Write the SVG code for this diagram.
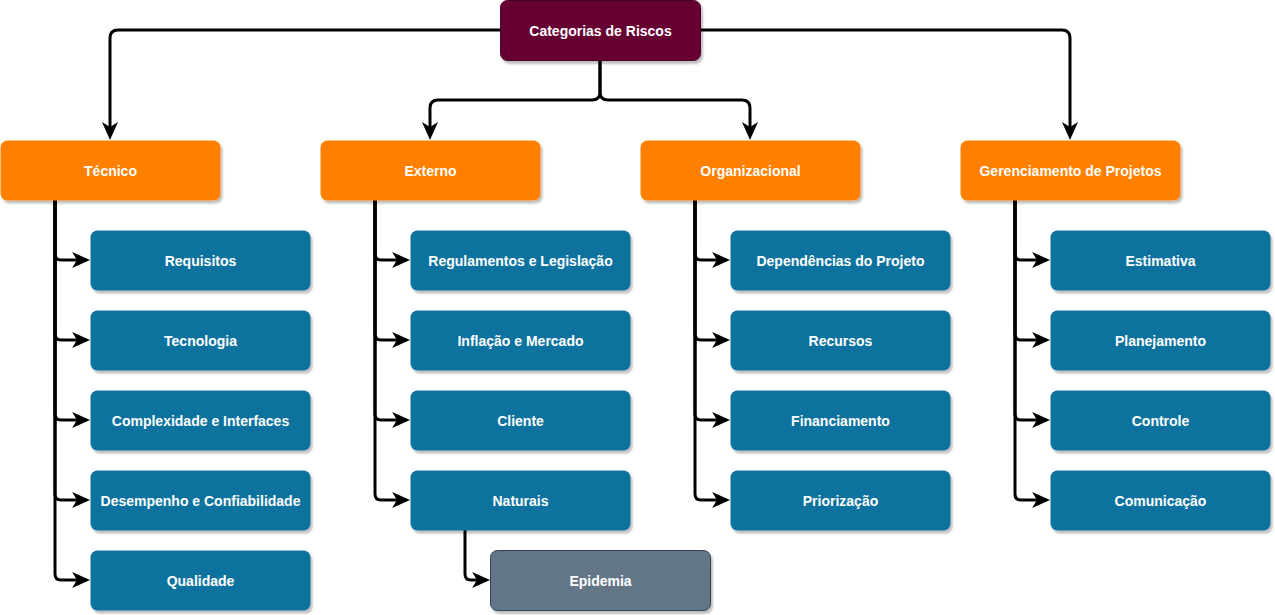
<svg xmlns="http://www.w3.org/2000/svg" width="1275" height="615" viewBox="0 0 1275 615">
<defs>
<filter id="sh" x="-10%" y="-20%" width="120%" height="150%">
<feDropShadow dx="2" dy="3" stdDeviation="1" flood-color="#000" flood-opacity="0.25"/>
</filter>
<marker id="ar" markerUnits="userSpaceOnUse" viewBox="0 0 18 16" refX="5" refY="8" markerWidth="18" markerHeight="16" orient="auto">
<path d="M0,0 L18,8 L0,16 L5,8 Z" fill="#000"/>
</marker>
<style>
.n rect{filter:url(#sh)}
.root rect{fill:#660033;stroke:#4a0025;stroke-width:1}
.cat rect{fill:#FF8000;stroke:none}
.sub rect{fill:#10739E;stroke:none}
.gray rect{fill:#647687;stroke:#314354;stroke-width:1}
.n text{font-family:"Liberation Sans",Arial,Helvetica,sans-serif;font-weight:bold;font-size:14px;fill:#fff;text-anchor:middle;dominant-baseline:central}
.c path{fill:none;stroke:#000;stroke-width:3;marker-end:url(#ar)}
</style>
</defs>
<rect width="1275" height="615" fill="#fff"/>
<g class="c" id="connectors">
<path d="M500,30 H118 Q110,30 110,38 V127"/>
<path d="M700,30 H1062 Q1070,30 1070,38 V127"/>
<path d="M600,60 V92 Q600,100 592,100 H438 Q430,100 430,108 V127"/>
<path d="M600,60 V92 Q600,100 608,100 H742 Q750,100 750,108 V127"/>
<path d="M55,200 V254 Q55,260 61,260 H77"/>
<path d="M55,200 V334 Q55,340 61,340 H77"/>
<path d="M55,200 V414 Q55,420 61,420 H77"/>
<path d="M55,200 V494 Q55,500 61,500 H77"/>
<path d="M55,200 V574 Q55,580 61,580 H77"/>
<path d="M375,200 V254 Q375,260 381,260 H397"/>
<path d="M375,200 V334 Q375,340 381,340 H397"/>
<path d="M375,200 V414 Q375,420 381,420 H397"/>
<path d="M375,200 V494 Q375,500 381,500 H397"/>
<path d="M695,200 V254 Q695,260 701,260 H717"/>
<path d="M695,200 V334 Q695,340 701,340 H717"/>
<path d="M695,200 V414 Q695,420 701,420 H717"/>
<path d="M695,200 V494 Q695,500 701,500 H717"/>
<path d="M1015,200 V254 Q1015,260 1021,260 H1037"/>
<path d="M1015,200 V334 Q1015,340 1021,340 H1037"/>
<path d="M1015,200 V414 Q1015,420 1021,420 H1037"/>
<path d="M1015,200 V494 Q1015,500 1021,500 H1037"/>
<path d="M465,530 V574 Q465,580 471,580 H477"/>
</g>
<g id="root" class="n root"><rect x="500.5" y="0.5" width="200" height="60" rx="7"/><text x="600.5" y="30.5">Categorias de Riscos</text></g>
<g id="tecnico" class="n cat"><rect x="0.5" y="140.5" width="220" height="60" rx="7"/><text x="110.5" y="170.5">Técnico</text></g>
<g id="externo" class="n cat"><rect x="320.5" y="140.5" width="220" height="60" rx="7"/><text x="430.5" y="170.5">Externo</text></g>
<g id="organizacional" class="n cat"><rect x="640.5" y="140.5" width="220" height="60" rx="7"/><text x="750.5" y="170.5">Organizacional</text></g>
<g id="gerenciamento" class="n cat"><rect x="960.5" y="140.5" width="220" height="60" rx="7"/><text x="1070.5" y="170.5">Gerenciamento de Projetos</text></g>
<g id="requisitos" class="n sub"><rect x="90.5" y="230.5" width="220" height="60" rx="7"/><text x="200.5" y="260.5">Requisitos</text></g>
<g id="tecnologia" class="n sub"><rect x="90.5" y="310.5" width="220" height="60" rx="7"/><text x="200.5" y="340.5">Tecnologia</text></g>
<g id="complexidade" class="n sub"><rect x="90.5" y="390.5" width="220" height="60" rx="7"/><text x="200.5" y="420.5">Complexidade e Interfaces</text></g>
<g id="desempenho" class="n sub"><rect x="90.5" y="470.5" width="220" height="60" rx="7"/><text x="200.5" y="500.5">Desempenho e Confiabilidade</text></g>
<g id="qualidade" class="n sub"><rect x="90.5" y="550.5" width="220" height="60" rx="7"/><text x="200.5" y="580.5">Qualidade</text></g>
<g id="regulamentos" class="n sub"><rect x="410.5" y="230.5" width="220" height="60" rx="7"/><text x="520.5" y="260.5">Regulamentos e Legislação</text></g>
<g id="inflacao" class="n sub"><rect x="410.5" y="310.5" width="220" height="60" rx="7"/><text x="520.5" y="340.5">Inflação e Mercado</text></g>
<g id="cliente" class="n sub"><rect x="410.5" y="390.5" width="220" height="60" rx="7"/><text x="520.5" y="420.5">Cliente</text></g>
<g id="naturais" class="n sub"><rect x="410.5" y="470.5" width="220" height="60" rx="7"/><text x="520.5" y="500.5">Naturais</text></g>
<g id="epidemia" class="n gray"><rect x="490.5" y="550.5" width="220" height="60" rx="7"/><text x="600.5" y="580.5">Epidemia</text></g>
<g id="dependencias" class="n sub"><rect x="730.5" y="230.5" width="220" height="60" rx="7"/><text x="840.5" y="260.5">Dependências do Projeto</text></g>
<g id="recursos" class="n sub"><rect x="730.5" y="310.5" width="220" height="60" rx="7"/><text x="840.5" y="340.5">Recursos</text></g>
<g id="financiamento" class="n sub"><rect x="730.5" y="390.5" width="220" height="60" rx="7"/><text x="840.5" y="420.5">Financiamento</text></g>
<g id="priorizacao" class="n sub"><rect x="730.5" y="470.5" width="220" height="60" rx="7"/><text x="840.5" y="500.5">Priorização</text></g>
<g id="estimativa" class="n sub"><rect x="1050.5" y="230.5" width="220" height="60" rx="7"/><text x="1160.5" y="260.5">Estimativa</text></g>
<g id="planejamento" class="n sub"><rect x="1050.5" y="310.5" width="220" height="60" rx="7"/><text x="1160.5" y="340.5">Planejamento</text></g>
<g id="controle" class="n sub"><rect x="1050.5" y="390.5" width="220" height="60" rx="7"/><text x="1160.5" y="420.5">Controle</text></g>
<g id="comunicacao" class="n sub"><rect x="1050.5" y="470.5" width="220" height="60" rx="7"/><text x="1160.5" y="500.5">Comunicação</text></g>
</svg>
